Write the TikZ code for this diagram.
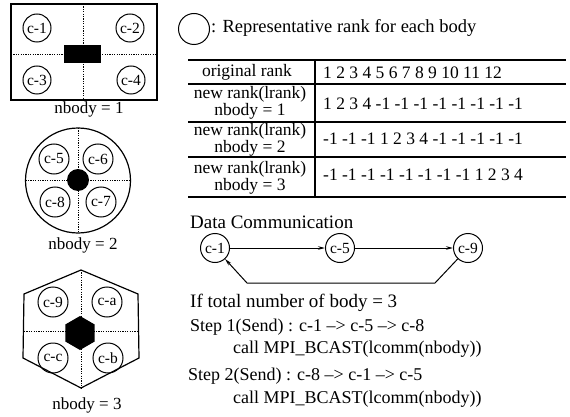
\documentclass[tikz,border=0pt]{standalone}
\usepackage{fontspec}
\setmainfont{Liberation Serif}
\usetikzlibrary{arrows.meta}

\tikzset{
  member/.style={circle,draw,line width=1pt,inner sep=0pt,minimum size=#1,
    font=\fontsize{15.5}{15.5}\selectfont},
  member/.default=28pt,
  frame/.style={draw,line width=1.2pt},
  divide/.style={line width=0.8pt,dash pattern=on 1.2pt off 1.2pt},
  caption/.style={font=\fontsize{17}{17}\selectfont,inner sep=0pt},
  rule/.style={line width=1.2pt},
  headcell/.style={font=\fontsize{17.5}{12.5}\selectfont,align=center,inner sep=0pt},
  datacell/.style={font=\fontsize{17.5}{17.5}\selectfont,anchor=west,inner sep=0pt},
  bigline/.style={font=\fontsize{19}{19}\selectfont,anchor=west,inner sep=0pt},
  stepline/.style={font=\fontsize{18}{18}\selectfont,anchor=west,inner sep=0pt},
  flow/.style={line width=1pt,-{Stealth[length=7pt,width=3.5pt]}},
}

\begin{document}
\begin{tikzpicture}[x=1pt,y=-1pt]
\useasboundingbox (0,0) rectangle (570,417);

% ---- nbody = 1 : rectangular body ----
\draw[frame] (11,4) rectangle (157,100);
\draw[divide] (83,4) -- (83,100);
\draw[divide] (11,54) -- (157,54);
\fill (64,45) rectangle (101,63);
\node[member] (c1) at (37,28) {c-1};
\node[member] (c2) at (130,28) {c-2};
\node[member] (c3) at (37,80) {c-3};
\node[member] (c4) at (131,80) {c-4};
\node[caption] (cap1) at (89,109) {nbody = 1};

% ---- nbody = 2 : circular body ----
\draw[frame] (78,180.5) circle[radius=52.5pt];
\draw[divide] (78,128) -- (78,233);
\draw[divide] (25.5,180) -- (130.5,180);
\fill (78,180) circle[radius=11pt];
\node[member=30pt] (c5) at (54,159) {c-5};
\node[member=30pt] (c6) at (98,159) {c-6};
\node[member=30pt] (c8) at (55,202) {c-8};
\node[member=30pt] (c7) at (101,202) {c-7};
\node[caption] (cap2) at (83,245) {nbody = 2};

% ---- nbody = 3 : hexagonal body ----
\draw[frame] (81,270) -- (138,294) -- (139,358) -- (81,388) -- (23,358) -- (24,294) -- cycle;
\draw[divide] (81,270) -- (81,388);
\draw[divide] (24,331) -- (138.5,331);
\fill (80,316) -- (94.7,324.5) -- (94.7,341.5) -- (80,350) -- (65.3,341.5) -- (65.3,324.5) -- cycle;
\node[member=30pt] (c9) at (53,302) {c-9};
\node[member=30pt] (ca) at (107,302) {c-a};
\node[member=30pt] (cc) at (53,358) {c-c};
\node[member=30pt] (cb) at (108,358) {c-b};
\node[caption] (cap3) at (87,405) {nbody = 3};

% ---- legend ----
\node[member=31pt] (legend) at (194,29) {};
\node[stepline,font=\fontsize{18.5}{18.5}\selectfont] (legendtext) at (211,28) {: Representative rank for each body};

% ---- rank table ----
\draw[rule] (188,60) -- (566,60);
\draw[rule] (188,84) -- (566,84);
\draw[rule] (188,122) -- (566,122);
\draw[rule] (188,157) -- (566,157);
\draw[rule] (188,197) -- (566,197);
\draw[rule] (315,60) -- (315,197);

\node[headcell] (h0) at (247,72) {original rank};
\node[headcell] (h1) at (250,103) {new rank(lrank)\\nbody = 1};
\node[headcell] (h2) at (250,140) {new rank(lrank)\\nbody = 2};
\node[headcell] (h3) at (250,178) {new rank(lrank)\\nbody = 3};

\node[datacell] (r0) at (323,73) {1 2 3 4 5 6 7 8 9 10 11 12};
\node[datacell] (r1) at (323,104) {1 2 3 4 -1 -1 -1 -1 -1 -1 -1 -1};
\node[datacell] (r2) at (323,139) {-1 -1 -1 1 2 3 4 -1 -1 -1 -1 -1};
\node[datacell] (r3) at (323,175) {-1 -1 -1 -1 -1 -1 -1 -1 1 2 3 4};

% ---- data communication ring ----
\node[bigline] (dctitle) at (190,222) {Data Communication};
\node[member=29pt] (d1) at (215,248) {c-1};
\node[member=29pt] (d5) at (340,248) {c-5};
\node[member=29pt] (d9) at (468,248) {c-9};
\coordinate (back1) at (435,283);
\coordinate (back2) at (247,283);
\draw[flow] (d1) -- (d5);
\draw[flow] (d5) -- (d9);
\draw[flow] (d9) -- (back1) -- (back2) -- (d1);

% ---- steps ----
\node[bigline] (cond) at (190,303) {If total number of body = 3};
\node[stepline] (s1) at (190,327) {Step 1(Send) : c-1 --> c-5 --> c-8};
\node[stepline] (s1c) at (233,349) {call MPI\_BCAST(lcomm(nbody))};
\node[stepline] (s2) at (188,376) {Step 2(Send) : c-8 --> c-1 --> c-5};
\node[stepline] (s2c) at (233,399) {call MPI\_BCAST(lcomm(nbody))};
\end{tikzpicture}
\end{document}
